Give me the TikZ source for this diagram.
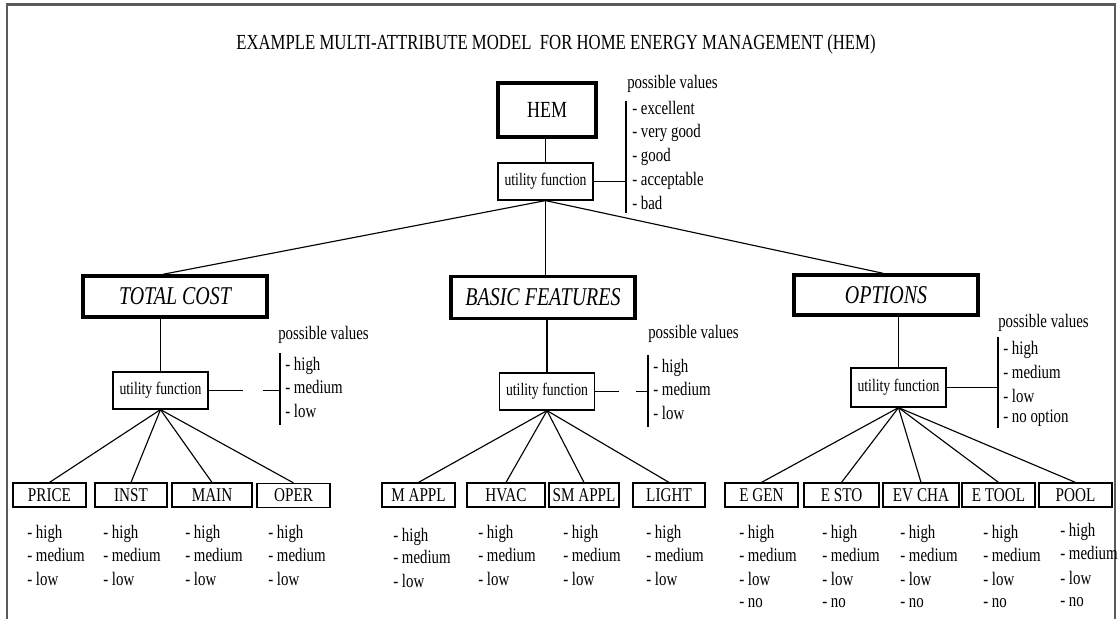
\documentclass[tikz,border=0pt]{standalone}
\usepackage{fontspec}
\setmainfont{Liberation Serif}[FakeStretch=0.78]
\newlength\pxu
\setlength\pxu{0.75pt}
\newcommand\fsz[1]{\fontsize{#1}{#1}\selectfont}
\definecolor{framegray}{HTML}{5A5A5A}
\begin{document}
\begin{tikzpicture}[x=0.75pt,y=-0.75pt,
  link/.style={line width=0.85pt},
  ubox/.style={draw, line width=0.9pt, inner sep=0pt, minimum width=95\pxu,
    minimum height=37\pxu, font=\fsz{13.2}},
  topbox/.style={draw, line width=2.6pt, inner sep=0pt, minimum width=98\pxu,
    minimum height=54\pxu, font=\fsz{17.3}},
  hdr/.style={draw, line width=2.6pt, inner sep=0pt, minimum width=184\pxu,
    minimum height=41\pxu, font=\fsz{19.2}\itshape},
  leaf/.style={draw, line width=0.9pt, inner sep=0pt, minimum height=24\pxu,
    font=\fsz{14.6}},
  val/.style={inner sep=0pt, anchor=base west, font=\fsz{14.3}},
]
\useasboundingbox (0,0) rectangle (1119,618);

% outer frame (open at the bottom)
\draw[framegray, line width=2.2pt] (7,620) -- (7,4.5) -- (1115,4.5) -- (1115,620);

% title
\node[font=\fsz{16.1}, anchor=base, inner sep=0pt] (title) at (556,49)
  {EXAMPLE MULTI-ATTRIBUTE MODEL\ \ FOR HOME ENERGY MANAGEMENT (HEM)};

% root
\node[topbox] (hem) at (547,110) {HEM};
\node[ubox] (hemu) at (545.5,181.5) {utility function};

% second level
\node[hdr] (tc) at (175,296.5) {TOTAL COST};
\node[ubox] (tcu) at (160.5,390.5) {utility function};
\node[hdr, minimum height=42\pxu] (bf) at (543,297.5) {BASIC FEATURES};
\node[ubox] (bfu) at (547,391.5) {utility function};
\node[hdr, minimum height=40\pxu] (op) at (886,295) {OPTIONS};
\node[ubox, minimum height=39\pxu] (opu) at (898.5,387.5) {utility function};

% leaves
\node[leaf, minimum width=73\pxu] (price) at (49.5,495) {PRICE};
\node[leaf, minimum width=72\pxu] (inst)  at (131,495)  {INST};
\node[leaf, minimum width=80\pxu] (main)  at (212,495)  {MAIN};
\node[leaf, minimum width=73\pxu] (oper)  at (293.5,495.5) {OPER};
\node[leaf, minimum width=73\pxu] (mappl) at (418.5,495) {M\ APPL};
\node[leaf, minimum width=78\pxu] (hvac)  at (506,495)  {HVAC};
\node[leaf, minimum width=70\pxu] (smappl) at (584,495) {SM APPL};
\node[leaf, minimum width=72\pxu] (light) at (669,495)  {LIGHT};
\node[leaf, minimum width=73\pxu] (egen)  at (761.5,495) {E GEN};
\node[leaf, minimum width=75\pxu] (esto)  at (841.5,495) {E STO};
\node[leaf, minimum width=76\pxu] (evcha) at (921,495)  {EV CHA};
\node[leaf, minimum width=73\pxu] (etool) at (998.5,495) {E TOOL};
\node[leaf, minimum width=73\pxu] (pool)  at (1075.5,495) {POOL};

% tree connectors
\draw[link] (hemu.north |- hem.south) -- (hemu.north);
\draw[link] (hemu.south) -- ([xshift=-12\pxu]tc.north);
\draw[link] (hemu.south) -- (hemu.south |- bf.north);
\draw[link] (hemu.south) -- ([xshift=-3\pxu]op.north);
\draw[link] (tcu.north |- tc.south) -- (tcu.north);
\draw[link] (bfu.north |- bf.south) -- (bfu.north);
\draw[link] (opu.north |- op.south) -- (opu.north);
\foreach \n in {price,inst,main,oper} \draw[link] (tcu.south) -- (\n.north);
\foreach \n in {mappl,hvac,smappl,light} \draw[link] (bfu.south) -- (\n.north);
\foreach \n in {egen,esto,evcha,etool,pool} \draw[link] (opu.south) -- (\n.north);

% value brackets
\coordinate (hemb) at (626,181.5);
\coordinate (hembt) at (626,101);
\coordinate (hembb) at (626,213);
\draw[link] (hemu.east) -- (hemb);
\draw[link] (hembt) -- (hembb);

\coordinate (tcg1) at (243,390.5);
\coordinate (tcg2) at (263,390.5);
\coordinate (tcb) at (280,390.5);
\coordinate (tcbt) at (280,353);
\coordinate (tcbb) at (280,425);
\draw[link] (tcu.east) -- (tcg1);
\draw[link] (tcg2) -- (tcb);
\draw[link] (tcbt) -- (tcbb);

\coordinate (bfg1) at (619,391.5);
\coordinate (bfg2) at (636,391.5);
\coordinate (bfb) at (648,391.5);
\coordinate (bfbt) at (648,355);
\coordinate (bfbb) at (648,427);
\draw[link] (bfu.east) -- (bfg1);
\draw[link] (bfg2) -- (bfb);
\draw[link] (bfbt) -- (bfbb);

\coordinate (opb) at (998,387.5);
\coordinate (opbt) at (998,337);
\coordinate (opbb) at (998,428);
\draw[link] (opu.east) -- (opb);
\draw[link] (opbt) -- (opbb);

% possible values
\node[val] (hempv) at (627,88) {possible values};
\foreach \t [count=\i] in {excellent,very good,good,acceptable,bad}
  \node[val] (hemv\i) at (632,{114+(\i-1)*23.8}) {- \t};

\node[val] (tcpv) at (278,339) {possible values};
\foreach \t [count=\i] in {high,medium,low}
  \node[val] (tcv\i) at (285,{370+(\i-1)*23.5}) {- \t};

\node[val] (bfpv) at (648,338) {possible values};
\foreach \t [count=\i] in {high,medium,low}
  \node[val] (bfv\i) at (653,{372+(\i-1)*23.5}) {- \t};

\node[val] (oppv) at (998,327) {possible values};
\foreach \t/\y [count=\i] in {high/354,medium/378,low/402,no option/422}
  \node[val] (opv\i) at (1003,\y) {- \t};

% leaf values
\foreach \n/\x in {price/27,inst/103,main/185,oper/268,hvac/478,smappl/563,light/646}
  \foreach \t/\y [count=\i] in {high/538,medium/561,low/585.5}
    \node[val] (\n v\i) at (\x,\y) {- \t};
\foreach \t/\y [count=\i] in {high/541,medium/563,low/587}
  \node[val] (mapplv\i) at (393,\y) {- \t};
\foreach \n/\x in {egen/739,esto/822,evcha/900,etool/983}
  \foreach \t/\y [count=\i] in {high/538,medium/561,low/585.5,no/607}
    \node[val] (\n v\i) at (\x,\y) {- \t};
\foreach \t/\y [count=\i] in {high/536,medium/559,low/584,no/606}
  \node[val] (poolv\i) at (1060,\y) {- \t};
\end{tikzpicture}
\end{document}
